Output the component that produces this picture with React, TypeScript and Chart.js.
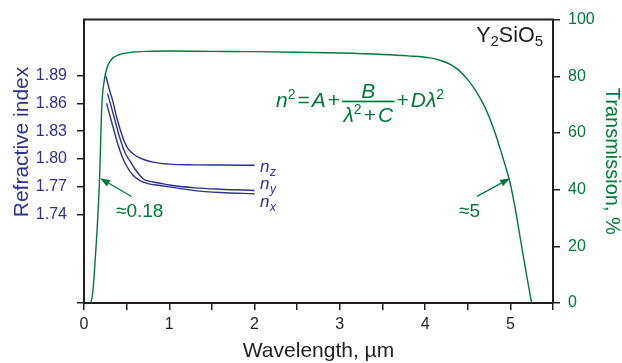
import { useEffect, useRef } from 'react';
import { Chart, registerables } from 'chart.js';

Chart.register(...registerables);

// ---- data ----
const wavelengthT = [0.08, 0.10, 0.12, 0.15, 0.18, 0.21, 0.24, 0.27, 0.30, 0.34, 0.40, 0.54, 0.73, 1.0, 1.5, 2.0, 2.5, 3.0, 3.5, 3.8, 4.06, 4.2, 4.3, 4.4, 4.5, 4.6, 4.7, 4.8, 4.9, 4.96, 5.0, 5.05, 5.1, 5.15, 5.2, 5.25];
const transmission = [0, 3, 10, 24, 42, 70, 79, 83, 85, 86.5, 87.5, 88.4, 88.8, 88.9, 88.8, 88.7, 88.5, 88.2, 87.7, 87.2, 86.5, 85.4, 84.1, 82, 78.8, 74.6, 69.2, 61.8, 52.5, 46.5, 42, 34.5, 25.8, 16.8, 8.2, 0];

const wavelengthNz = [0.258, 0.30, 0.343, 0.38, 0.422, 0.46, 0.50, 0.56, 0.617, 0.70, 0.81, 1.0, 1.3, 1.6, 2.0];
const indexNz = [1.889, 1.874, 1.8606, 1.846, 1.8326, 1.822, 1.8134, 1.807, 1.803, 1.7995, 1.7967, 1.7945, 1.7937, 1.7935, 1.7933];

const wavelengthNy = [0.277, 0.35, 0.422, 0.48, 0.54, 0.60, 0.695, 0.80, 0.89, 1.0, 1.3, 1.6, 2.0];
const indexNy = [1.8704, 1.846, 1.822, 1.807, 1.7977, 1.789, 1.7785, 1.7755, 1.774, 1.772, 1.769, 1.7675, 1.7662];

const wavelengthNx = [0.265, 0.33, 0.40, 0.45, 0.50, 0.57, 0.656, 0.75, 0.89, 1.0, 1.3, 1.6, 2.0];
const indexNx = [1.860, 1.838, 1.815, 1.802, 1.7925, 1.783, 1.7767, 1.7735, 1.7715, 1.770, 1.766, 1.764, 1.7627];

const indexTicks = [1.74, 1.77, 1.80, 1.83, 1.86, 1.89];
const indexMin = 1.6451;
const indexMax = 1.95;

const BLUE = '#2e3192';
const GREEN = '#00783c';
const DARK = '#231f20';
const FONT = '"Liberation Sans", Arial, Helvetica, sans-serif';

const pts = (xs: number[], ys: number[]) => xs.map((x, i) => ({ x, y: ys[i] }));

function drawArrow(ctx: CanvasRenderingContext2D, x1: number, y1: number, x2: number, y2: number) {
  const a = Math.atan2(y2 - y1, x2 - x1);
  const L = 10, W = 3.6;
  const bx = x2 - Math.cos(a) * L, by = y2 - Math.sin(a) * L;
  ctx.beginPath();
  ctx.moveTo(x1, y1);
  ctx.lineTo(bx, by);
  ctx.stroke();
  ctx.beginPath();
  ctx.moveTo(x2, y2);
  ctx.lineTo(bx + Math.sin(a) * W, by - Math.cos(a) * W);
  ctx.lineTo(bx - Math.sin(a) * W, by + Math.cos(a) * W);
  ctx.closePath();
  ctx.fill();
}

const annotPlugin = {
  id: 'annot',
  afterDraw(chart: any) {
    const { ctx, chartArea: ca, scales } = chart;
    const X = (v: number) => scales.x.getPixelForValue(v);
    const T = (v: number) => scales.yT.getPixelForValue(v);
    ctx.save();
    // top frame
    ctx.strokeStyle = DARK;
    ctx.lineWidth = 2;
    ctx.beginPath();
    ctx.moveTo(ca.left - 1, ca.top);
    ctx.lineTo(ca.right + 1, ca.top);
    ctx.stroke();

    // axis titles
    ctx.textAlign = 'center';
    ctx.textBaseline = 'middle';
    ctx.fillStyle = DARK;
    ctx.font = `21px ${FONT}`;
    ctx.fillText('Wavelength, µm', (ca.left + ca.right) / 2, 351);

    ctx.save();
    ctx.translate(22, 142);
    ctx.rotate(-Math.PI / 2);
    ctx.fillStyle = BLUE;
    ctx.font = `21px ${FONT}`;
    ctx.fillText('Refractive index', 0, 0);
    ctx.restore();

    ctx.save();
    ctx.translate(612, (ca.top + ca.bottom) / 2);
    ctx.rotate(Math.PI / 2);
    ctx.fillStyle = GREEN;
    ctx.font = `20px ${FONT}`;
    ctx.fillText('Transmission, %', 0, 0);
    ctx.restore();

    ctx.textAlign = 'left';
    ctx.textBaseline = 'alphabetic';

    // Y2SiO5 label (right aligned)
    {
      const big = `21.5px ${FONT}`, sub = `15px ${FONT}`;
      const parts: [string, string, number][] = [['Y', big, 0], ['2', sub, 4], ['SiO', big, 0], ['5', sub, 4]];
      let w = 0;
      for (const [t, f] of parts) { ctx.font = f; w += ctx.measureText(t).width; }
      let x = X(5.383) - w;
      const yb = T(92);
      ctx.fillStyle = DARK;
      for (const [t, f, dy] of parts) { ctx.font = f; ctx.fillText(t, x, yb + dy); x += ctx.measureText(t).width; }
    }

    // formula
    {
      const F = 21;
      const it = `italic ${F}px ${FONT}`, rm = `${F}px ${FONT}`, sup = `14px ${FONT}`;
      const sp = 2;
      let x = X(2.252);
      const yb = T(69.3);
      ctx.fillStyle = GREEN;
      const put = (t: string, f: string, dy = 0, y0 = yb) => { ctx.font = f; ctx.fillText(t, x, y0 + dy); x += ctx.measureText(t).width; };
      put('n', it); put('2', sup, -8); x += sp; put('=', rm); x += sp; put('A', it); x += sp; put('+', rm); x += sp;
      // fraction
      const meas = (t: string, f: string) => { ctx.font = f; return ctx.measureText(t).width; };
      const dw = meas('λ', it) + meas('2', sup) + meas('+', rm) + meas('C', it) + 2 * sp;
      const bw = dw + 3;
      const fx = x;
      ctx.fillRect(fx, yb - 6, bw, 1.7);
      const nw = meas('B', it);
      ctx.font = it;
      ctx.fillText('B', fx + (bw - nw) / 2, yb - 9);
      x = fx + 1.5;
      const yd = yb + 15;
      put('λ', it, 0, yd); put('2', sup, -8, yd); x += sp; put('+', rm, 0, yd); x += sp; put('C', it, 0, yd);
      x = fx + bw + sp;
      put('+', rm); x += sp; put('D', it); put('λ', it); put('2', sup, -8);
    }

    // n labels
    {
      const it = `italic 17px ${FONT}`, sub = `italic 12px ${FONT}`;
      ctx.fillStyle = BLUE;
      const lab = (s: string, xv: number, tv: number) => {
        const x = X(xv), y = T(tv);
        ctx.font = it; ctx.fillText('n', x, y);
        const w = ctx.measureText('n').width;
        ctx.font = sub; ctx.fillText(s, x + w + 0.5, y + 4);
      };
      lab('z', 2.064, 46.3);
      lab('y', 2.064, 40.1);
      lab('x', 2.064, 33.8);
    }

    // arrows and approx labels
    ctx.fillStyle = GREEN;
    ctx.strokeStyle = GREEN;
    ctx.lineWidth = 1.3;
    drawArrow(ctx, X(0.559), T(37.6), X(0.188), T(44));
    drawArrow(ctx, X(4.609), T(37.6), X(4.996), T(44));
    ctx.font = `19px ${FONT}`;
    ctx.fillText('≈0.18', X(0.375), T(30.5));
    ctx.fillText('≈5', X(4.398), T(30.5));

    ctx.restore();
  },
};

export default function App() {
  const ref = useRef<HTMLCanvasElement>(null);
  useEffect(() => {
    document.body.style.margin = '0';
    const grid = { drawOnChartArea: false, drawTicks: true, tickLength: 7, color: DARK, lineWidth: 1.5 };
    const border = { display: true, color: DARK, width: 2 };
    const chart = new Chart(ref.current!, {
      type: 'line',
      data: {
        datasets: [
          { data: pts(wavelengthT, transmission), yAxisID: 'yT', borderColor: GREEN, borderWidth: 1.4, pointRadius: 0, cubicInterpolationMode: 'monotone', fill: false },
          { data: pts(wavelengthNz, indexNz), yAxisID: 'yN', borderColor: BLUE, borderWidth: 1.4, pointRadius: 0, cubicInterpolationMode: 'monotone', fill: false },
          { data: pts(wavelengthNy, indexNy), yAxisID: 'yN', borderColor: BLUE, borderWidth: 1.4, pointRadius: 0, cubicInterpolationMode: 'monotone', fill: false },
          { data: pts(wavelengthNx, indexNx), yAxisID: 'yN', borderColor: BLUE, borderWidth: 1.4, pointRadius: 0, cubicInterpolationMode: 'monotone', fill: false },
        ],
      },
      options: {
        responsive: false,
        animation: false,
        devicePixelRatio: 1,
        layout: { padding: { top: 15, left: 0, right: 0, bottom: 0 } },
        plugins: { legend: { display: false }, tooltip: { enabled: false } },
        scales: {
          x: {
            type: 'linear', min: 0, max: 5.5,
            grid, border,
            ticks: { stepSize: 0.5, color: DARK, font: { family: FONT, size: 16 }, padding: 5, maxRotation: 0, autoSkip: false,
              callback: (v: any) => (Math.abs(v - Math.round(v)) < 1e-6 ? String(Math.round(v)) : '') },
            afterFit: (s: any) => { s.height = 60; },
          },
          yN: {
            type: 'linear', position: 'left', min: indexMin, max: indexMax,
            grid, border,
            ticks: { color: BLUE, font: { family: FONT, size: 16 }, padding: 10,
              callback: (v: any) => (indexTicks.some((t) => Math.abs(t - v) < 1e-6) ? Number(v).toFixed(2) : '') },
            afterBuildTicks: (s: any) => { s.ticks = [indexMin, ...indexTicks].map((value) => ({ value })); },
            afterFit: (s: any) => { s.width = 84; },
          },
          yT: {
            type: 'linear', position: 'right', min: 0, max: 100,
            grid, border,
            ticks: { stepSize: 20, color: GREEN, font: { family: FONT, size: 16 }, padding: 8 },
            afterFit: (s: any) => { s.width = 69; },
          },
        },
      },
      plugins: [annotPlugin],
    } as any);
    return () => chart.destroy();
  }, []);
  return (
    <div style={{ position: 'absolute', left: 0, top: 0, width: 622, height: 363, background: '#fff' }}>
      <canvas ref={ref} width={622} height={363} style={{ display: 'block' }} />
    </div>
  );
}
